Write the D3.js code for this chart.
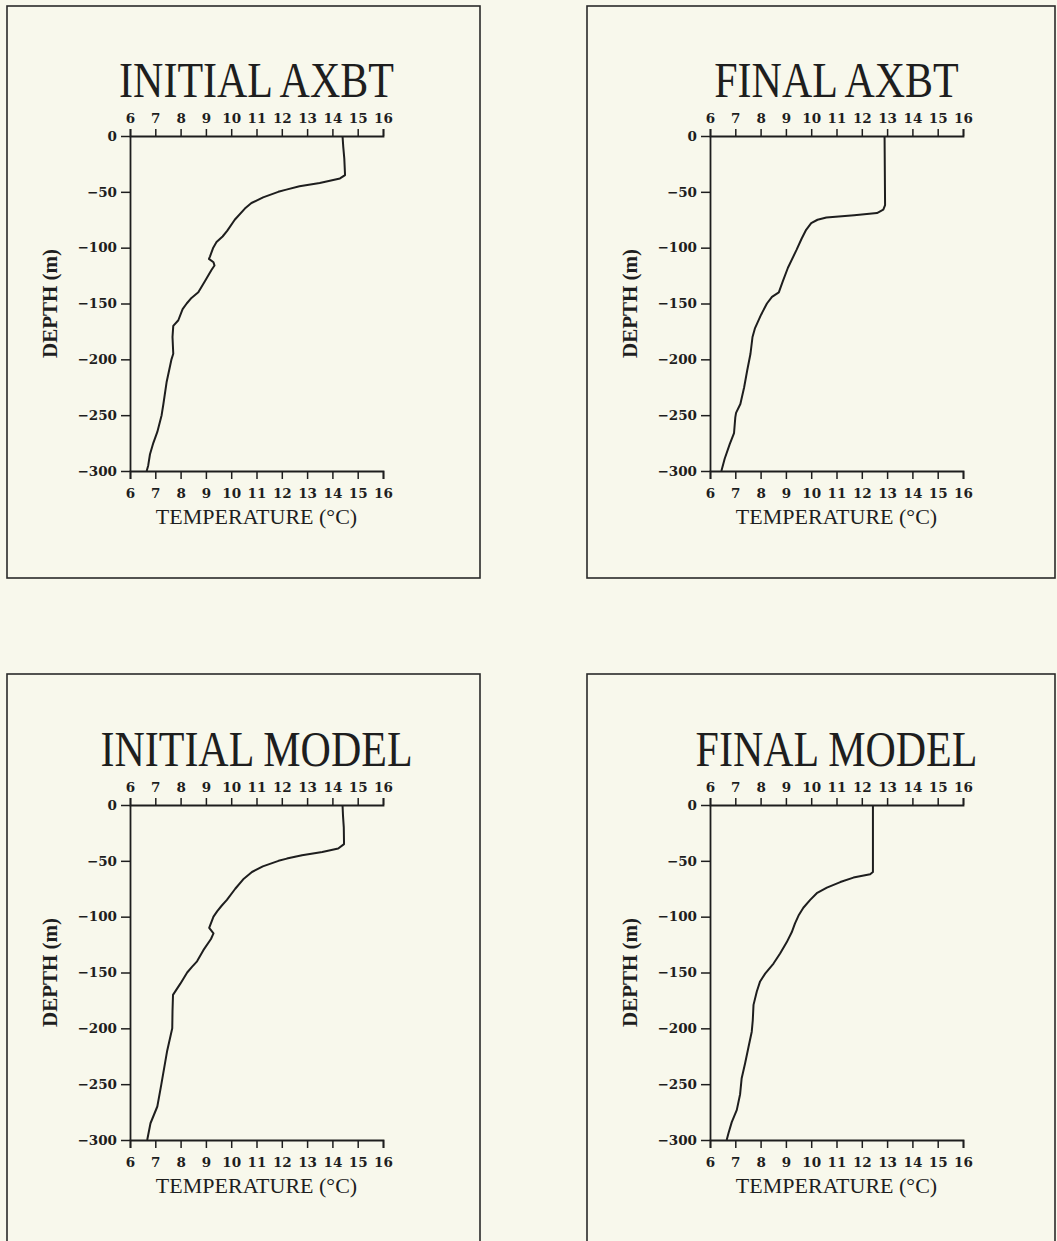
<!DOCTYPE html>
<html>
<head>
<meta charset="utf-8">
<script src="https://cdn.jsdelivr.net/npm/d3@7"></script>
<style>
  body { margin: 0; background: #f8f8ec; }
  svg { display: block; }
</style>
</head>
<body>
<div id="chart"></div>
<script>
// axis values
const tempTicks = [6, 7, 8, 9, 10, 11, 12, 13, 14, 15, 16];
const depthTicks = [0, -50, -100, -150, -200, -250, -300];
const tempDomain = [6, 16];
const depthDomain = [-300, 0];

const titles = ["INITIAL AXBT", "FINAL AXBT", "INITIAL MODEL", "FINAL MODEL"];

// profiles: depth (m) and temperature (C)
const initialAxbtDepth = [0, -10, -20, -35, -38, -42, -45, -48, -50, -55, -60, -65, -75, -85, -90, -95, -100, -108, -110, -113, -116, -120, -130, -140, -145, -150, -155, -165, -170, -180, -195, -200, -220, -240, -250, -265, -275, -285, -295, -300];
const initialAxbtTemp = [14.4, 14.43, 14.47, 14.5, 14.3, 13.5, 12.7, 12.18, 11.86, 11.26, 10.8, 10.54, 10.14, 9.84, 9.66, 9.42, 9.29, 9.16, 9.12, 9.3, 9.34, 9.22, 8.96, 8.7, 8.43, 8.24, 8.08, 7.91, 7.71, 7.68, 7.71, 7.64, 7.45, 7.32, 7.25, 7.08, 6.92, 6.79, 6.72, 6.66];

const finalAxbtDepth = [0, -62, -66, -69, -71, -73, -75, -78, -84, -92, -102, -118, -130, -140, -144, -150, -160, -172, -180, -195, -210, -225, -240, -248, -252, -266, -276, -289, -300];
const finalAxbtTemp = [12.9, 12.92, 12.85, 12.6, 11.7, 10.6, 10.25, 10.0, 9.8, 9.62, 9.42, 9.08, 8.88, 8.72, 8.45, 8.25, 8.02, 7.78, 7.68, 7.6, 7.47, 7.35, 7.2, 7.03, 7.0, 6.95, 6.78, 6.58, 6.45];

const initialModelDepth = [0, -10, -20, -35, -39, -42, -45, -48, -50, -55, -60, -66, -75, -85, -90, -95, -100, -110, -115, -120, -130, -140, -145, -150, -160, -170, -185, -200, -220, -250, -270, -285, -300];
const initialModelTemp = [14.4, 14.42, 14.45, 14.46, 14.23, 13.6, 12.8, 12.2, 11.87, 11.25, 10.82, 10.5, 10.16, 9.83, 9.63, 9.45, 9.3, 9.13, 9.3, 9.2, 8.9, 8.65, 8.45, 8.26, 7.99, 7.7, 7.68, 7.67, 7.47, 7.24, 7.08, 6.81, 6.68];

const finalModelDepth = [0, -60, -62, -65, -69, -74, -79, -85, -92, -99, -106, -114, -123, -133, -142, -151, -158, -167, -179, -193, -203, -217, -231, -245, -259, -273, -284, -294, -300];
const finalModelTemp = [12.44, 12.44, 12.33, 11.67, 11.15, 10.62, 10.22, 9.96, 9.69, 9.5, 9.36, 9.23, 9.03, 8.77, 8.51, 8.18, 7.98, 7.85, 7.72, 7.69, 7.65, 7.52, 7.39, 7.25, 7.19, 7.06, 6.86, 6.73, 6.66];

const profiles = [
    [initialAxbtDepth, initialAxbtTemp],
    [finalAxbtDepth, finalAxbtTemp],
    [initialModelDepth, initialModelTemp],
    [finalModelDepth, finalModelTemp]
];

// layout of the four framed panels
var panels = [
    { box: [7, 6, 473, 572], plot: [130, 136] },
    { box: [587, 6, 468, 572], plot: [710, 136] },
    { box: [7, 674, 473, 600], plot: [130, 805] },
    { box: [587, 674, 468, 600], plot: [710, 805] }
];
var plotW = 253, plotH = 335;
var ink = "#1e1e1e";
var serif = "'Liberation Serif', 'Times New Roman', serif";
var tickFont = "'DejaVu Serif', 'Liberation Serif', serif";

var svg = d3.select("#chart").append("svg")
    .attr("width", 1057)
    .attr("height", 1241);

svg.append("rect")
    .attr("width", 1057)
    .attr("height", 1241)
    .attr("fill", "#f8f8ec");

var xScale = d3.scaleLinear().domain(tempDomain).range([0, plotW]);
var yScale = d3.scaleLinear().domain(depthDomain).range([plotH, 0]);

var line = d3.line()
    .x(function (d) { return xScale(d[1]); })
    .y(function (d) { return yScale(d[0]); });

function styleAxis(g) {
    g.select(".domain").attr("stroke", ink).attr("stroke-width", 1.8);
    g.selectAll(".tick line").attr("stroke", ink).attr("stroke-width", 1.5);
    g.selectAll(".tick text")
        .attr("fill", ink)
        .style("font-family", tickFont)
        .style("font-weight", "bold")
        .style("font-size", "13.5px");
}

panels.forEach(function (p, i) {
    // frame
    svg.append("rect")
        .attr("x", p.box[0])
        .attr("y", p.box[1])
        .attr("width", p.box[2])
        .attr("height", p.box[3])
        .attr("fill", "none")
        .attr("stroke", "#2a2a2a")
        .attr("stroke-width", 1.6);

    var g = svg.append("g")
        .attr("transform", "translate(" + p.plot[0] + "," + p.plot[1] + ")");

    // title
    g.append("text")
        .attr("transform", "translate(" + plotW / 2 + ",-39) scale(0.84,1)")
        .attr("text-anchor", "middle")
        .attr("fill", ink)
        .style("font-family", serif)
        .style("font-size", "50px")
        .text(titles[i]);

    var top = g.append("g")
        .call(d3.axisTop(xScale).tickValues(tempTicks).tickFormat(d3.format("d"))
            .tickSize(7).tickPadding(6));
    styleAxis(top);

    var bottom = g.append("g")
        .attr("transform", "translate(0," + plotH + ")")
        .call(d3.axisBottom(xScale).tickValues(tempTicks).tickFormat(d3.format("d"))
            .tickSize(8).tickPadding(9));
    styleAxis(bottom);

    var left = g.append("g")
        .call(d3.axisLeft(yScale).tickValues(depthTicks).tickFormat(d3.format("d"))
            .tickSize(9).tickSizeOuter(0).tickPadding(4));
    styleAxis(left);

    // axis titles
    g.append("text")
        .attr("x", plotW / 2)
        .attr("y", plotH + 53)
        .attr("text-anchor", "middle")
        .attr("fill", ink)
        .style("font-family", serif)
        .style("font-size", "22px")
        .text("TEMPERATURE (°C)");

    g.append("text")
        .attr("transform", "translate(-73," + plotH / 2 + ") rotate(-90)")
        .attr("text-anchor", "middle")
        .attr("fill", ink)
        .style("font-family", serif)
        .style("font-weight", "bold")
        .style("font-size", "21px")
        .text("DEPTH (m)");

    // profile
    var pts = d3.zip(profiles[i][0], profiles[i][1]);
    g.append("path")
        .attr("fill", "none")
        .attr("stroke", ink)
        .attr("stroke-width", 2)
        .attr("stroke-linejoin", "round")
        .attr("d", line(pts));
});
</script>
</body>
</html>
